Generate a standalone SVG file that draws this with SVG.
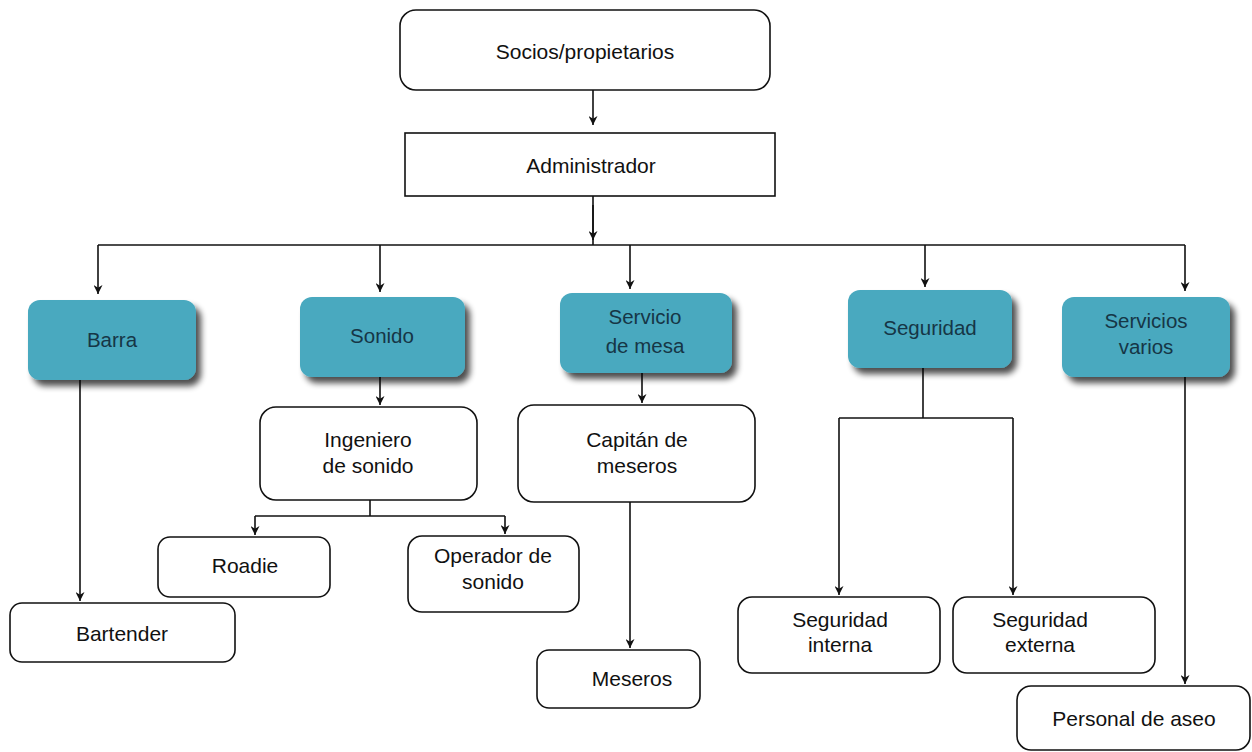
<svg xmlns="http://www.w3.org/2000/svg" width="1252" height="752" viewBox="0 0 1252 752">
<defs>
<marker id="arr" viewBox="0 0 10 10" refX="10" refY="5" markerWidth="9" markerHeight="9" orient="auto" markerUnits="userSpaceOnUse">
<path d="M0,0 L10,5 L0,10 L3,5 z" fill="#111"/>
</marker>
<filter id="sh" x="-20%" y="-20%" width="150%" height="160%">
<feGaussianBlur in="SourceAlpha" stdDeviation="3"/>
<feOffset dx="5" dy="6" result="b"/>
<feComponentTransfer><feFuncA type="linear" slope="0.7"/></feComponentTransfer>
<feMerge><feMergeNode/><feMergeNode in="SourceGraphic"/></feMerge>
</filter>
</defs>
<style>
.w{fill:#fff;stroke:#111;stroke-width:1.6}
.t{fill:#4aa9bf;filter:url(#sh)}
.tx{font-family:"Liberation Sans",Arial,sans-serif;font-size:21px;fill:#111;text-anchor:middle}
.tt{font-family:"Liberation Sans",Arial,sans-serif;font-size:20.5px;fill:#163646;text-anchor:middle}
.c{fill:none;stroke:#111;stroke-width:1.6}
.ca{fill:none;stroke:#111;stroke-width:1.6;marker-end:url(#arr)}
</style>
<rect width="1252" height="752" fill="#fff"/>
<g id="connectors">
<line class="ca" x1="593" y1="90" x2="593" y2="125"/>
<line class="c" x1="593" y1="196" x2="593" y2="245"/>
<path class="ca" d="M593,205 V240"/>
<line class="c" x1="98" y1="245" x2="1185" y2="245"/>
<line class="ca" x1="98" y1="245" x2="98" y2="294"/>
<line class="ca" x1="380" y1="245" x2="380" y2="292"/>
<line class="ca" x1="630" y1="245" x2="630" y2="289"/>
<line class="ca" x1="925" y1="245" x2="925" y2="287"/>
<line class="ca" x1="1185" y1="245" x2="1185" y2="291"/>
<line class="ca" x1="80" y1="380" x2="80" y2="601"/>
<line class="ca" x1="380" y1="377" x2="380" y2="405"/>
<line class="c" x1="370" y1="500" x2="370" y2="516"/>
<line class="c" x1="255" y1="516" x2="505" y2="516"/>
<line class="ca" x1="255" y1="516" x2="255" y2="535"/>
<line class="ca" x1="505" y1="516" x2="505" y2="534"/>
<line class="ca" x1="642" y1="372" x2="642" y2="403"/>
<line class="ca" x1="630" y1="502" x2="630" y2="648"/>
<line class="c" x1="923" y1="368" x2="923" y2="418"/>
<line class="c" x1="839" y1="418" x2="1013" y2="418"/>
<line class="ca" x1="839" y1="418" x2="839" y2="595"/>
<line class="ca" x1="1013" y1="418" x2="1013" y2="595"/>
<line class="ca" x1="1185" y1="377" x2="1185" y2="684"/>
</g>
<g id="socios"><rect class="w" x="400" y="10" width="370" height="80" rx="16"/><text class="tx" x="585" y="59">Socios/propietarios</text></g>
<g id="administrador"><rect class="w" x="405" y="133" width="370" height="63"/><text class="tx" x="591" y="173">Administrador</text></g>
<g id="barra"><rect class="t" x="28" y="300" width="168" height="80" rx="12"/><text class="tt" x="112" y="347">Barra</text></g>
<g id="sonido"><rect class="t" x="300" y="297" width="165" height="80" rx="12"/><text class="tt" x="382" y="343">Sonido</text></g>
<g id="servicio-mesa"><rect class="t" x="560" y="293" width="172" height="80" rx="12"/><text class="tt" x="645" y="324">Servicio</text><text class="tt" x="645" y="353">de mesa</text></g>
<g id="seguridad"><rect class="t" x="848" y="290" width="164" height="78" rx="12"/><text class="tt" x="930" y="335">Seguridad</text></g>
<g id="servicios-varios"><rect class="t" x="1062" y="297" width="168" height="80" rx="12"/><text class="tt" x="1146" y="328">Servicios</text><text class="tt" x="1146" y="354">varios</text></g>
<g id="ingeniero"><rect class="w" x="260" y="407" width="217" height="93" rx="16"/><text class="tx" x="368" y="447">Ingeniero</text><text class="tx" x="368" y="473">de sonido</text></g>
<g id="roadie"><rect class="w" x="158" y="537" width="172" height="60" rx="12"/><text class="tx" x="245" y="573">Roadie</text></g>
<g id="operador"><rect class="w" x="408" y="536" width="171" height="76" rx="14"/><text class="tx" x="493" y="563">Operador de</text><text class="tx" x="493" y="589">sonido</text></g>
<g id="capitan"><rect class="w" x="518" y="405" width="237" height="97" rx="16"/><text class="tx" x="637" y="447">Capitán de</text><text class="tx" x="637" y="473">meseros</text></g>
<g id="bartender"><rect class="w" x="10" y="603" width="225" height="59" rx="12"/><text class="tx" x="122" y="641">Bartender</text></g>
<g id="meseros"><rect class="w" x="537" y="650" width="163" height="58" rx="12"/><text class="tx" x="632" y="686">Meseros</text></g>
<g id="seg-interna"><rect class="w" x="738" y="597" width="202" height="76" rx="14"/><text class="tx" x="840" y="627">Seguridad</text><text class="tx" x="840" y="652">interna</text></g>
<g id="seg-externa"><rect class="w" x="953" y="597" width="202" height="76" rx="14"/><text class="tx" x="1040" y="627">Seguridad</text><text class="tx" x="1040" y="652">externa</text></g>
<g id="aseo"><rect class="w" x="1017" y="686" width="233" height="64" rx="14"/><text class="tx" x="1134" y="726">Personal de aseo</text></g>
</svg>
